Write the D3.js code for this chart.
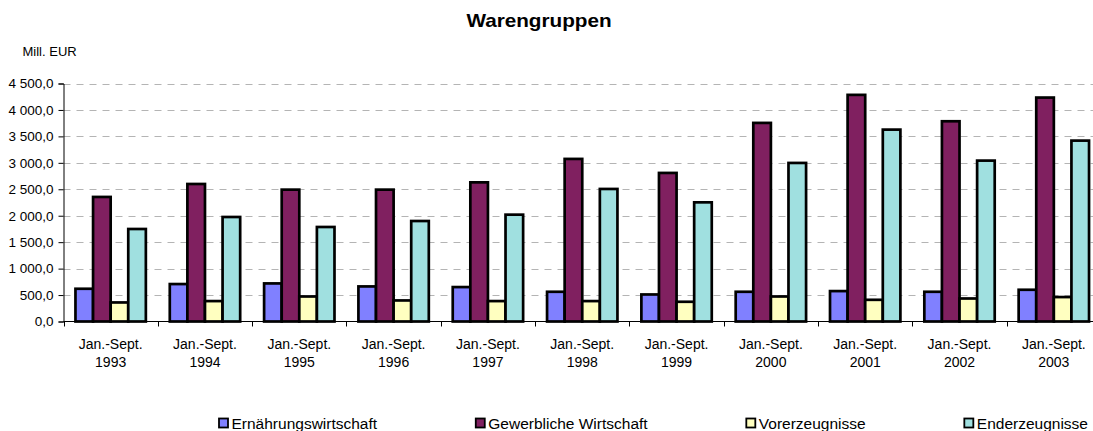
<!DOCTYPE html>
<html>
<head>
<meta charset="utf-8">
<script src="https://cdn.jsdelivr.net/npm/d3@7"></script>
<style>
  html, body { margin: 0; padding: 0; background: #fff; }
  svg { display: block; }
</style>
</head>
<body>
<div id="chart"></div>
<script>
// Values (Mill. EUR)
const years = ["1993", "1994", "1995", "1996", "1997", "1998", "1999", "2000", "2001", "2002", "2003"]
const seriesNames = ["Ernährungswirtschaft", "Gewerbliche Wirtschaft", "Vorerzeugnisse", "Enderzeugnisse"]
const ernaehrung = [619, 708, 720, 663, 651, 562, 511, 562, 575, 562, 600]
const gewerblich = [2355, 2600, 2493, 2493, 2631, 3074, 2809, 3755, 4285, 3786, 4234]
const vorerzeugnisse = [360, 386, 473, 398, 386, 386, 373, 473, 410, 435, 462]
const enderzeugnisse = [1749, 1976, 1787, 1900, 2020, 2506, 2253, 2998, 3628, 3042, 3420]
const colors = ["#8080ff", "#802060", "#ffffc0", "#a0e0e0"]
const yTicks = [0, 500, 1000, 1500, 2000, 2500, 3000, 3500, 4000, 4500]

const width = 1093, height = 431
const margin = {top: 83.5, left: 63.5, bottom: 321.5}
const font = "'Liberation Sans', Arial, sans-serif"

const seriesValues = [ernaehrung, gewerblich, vorerzeugnisse, enderzeugnisse]
const data = years.map((y, i) => ({
    year: y,
    values: seriesNames.map((s, j) => ({key: s, value: seriesValues[j][i], idx: j}))
}))

const de = d3.formatLocale({decimal: ",", thousands: " ", grouping: [3], currency: ["", " €"]})
const fmt = de.format(",.1f")

const svg = d3.select("#chart").append("svg")
    .attr("width", width)
    .attr("height", height)
    .attr("font-family", font)

// band for each year; the plot runs a bit past the right edge (cropped like the original)
const x0 = d3.scaleBand().domain(years).range([margin.left, 1101]).padding(0)
const x1 = d3.scaleBand().domain(seriesNames).range([0, x0.bandwidth()])
    .paddingInner(0).paddingOuter(0.68)
const y = d3.scaleLinear().domain([0, 4500]).range([margin.bottom, margin.top])

// Gridlines
svg.append("g")
    .selectAll("line")
    .data(yTicks.filter(d => d > 0))
    .join("line")
    .attr("x1", margin.left)
    .attr("x2", width)
    .attr("y1", d => Math.round(y(d)) + 0.5)
    .attr("y2", d => Math.round(y(d)) + 0.5)
    .attr("stroke", "#b4b4b4")
    .attr("stroke-width", 1)
    .attr("stroke-dasharray", "7,6")

// Bars
svg.append("g")
    .selectAll("g")
    .data(data)
    .join("g")
    .attr("transform", d => `translate(${x0(d.year)},0)`)
    .selectAll("rect")
    .data(d => d.values)
    .join("rect")
    .attr("x", d => x1(d.key))
    .attr("y", d => y(d.value))
    .attr("width", x1.bandwidth())
    .attr("height", d => y(0) - y(d.value))
    .attr("fill", d => colors[d.idx])
    .attr("stroke", "#000")
    .attr("stroke-width", 2.7)

// Y axis
const yAxis = svg.append("g")
    .attr("transform", `translate(${margin.left},0)`)
    .call(d3.axisLeft(y).tickValues(yTicks).tickFormat(fmt).tickSize(5).tickPadding(5))
yAxis.select(".domain").attr("stroke", "#000")
yAxis.selectAll(".tick line").attr("stroke", "#000")
yAxis.selectAll("text")
    .attr("font-family", font)
    .attr("font-size", "13.5px")
    .attr("fill", "#000")

// X axis: line plus ticks at band boundaries
svg.append("line")
    .attr("x1", margin.left)
    .attr("x2", width)
    .attr("y1", y(0))
    .attr("y2", y(0))
    .attr("stroke", "#000")
svg.append("g")
    .selectAll("line")
    .data(years)
    .join("line")
    .attr("x1", d => Math.round(x0(d)) + 0.5)
    .attr("x2", d => Math.round(x0(d)) + 0.5)
    .attr("y1", y(0))
    .attr("y2", y(0) + 5)
    .attr("stroke", "#000")

const xLabels = svg.append("g")
    .selectAll("text")
    .data(years)
    .join("text")
    .attr("x", d => x0(d) + x0.bandwidth() / 2)
    .attr("text-anchor", "middle")
    .attr("font-size", "14px")
    .attr("fill", "#000")
xLabels.append("tspan")
    .attr("x", d => x0(d) + x0.bandwidth() / 2)
    .attr("y", 348.5)
    .text("Jan.-Sept.")
xLabels.append("tspan")
    .attr("x", d => x0(d) + x0.bandwidth() / 2)
    .attr("y", 367)
    .text(d => d)

// Title
svg.append("g")
    .attr("transform", "translate(539,26.5) scale(1.15,1)")
    .append("text")
    .attr("text-anchor", "middle")
    .attr("font-size", "18px")
    .attr("font-weight", "bold")
    .text("Warengruppen")

// Unit label
svg.append("text")
    .attr("x", 22.5)
    .attr("y", 56)
    .attr("font-size", "13px")
    .text("Mill. EUR")

// Legend, spread so the items fill the row like the original
const legend = svg.append("g")
const items = legend.selectAll("g")
    .data(seriesNames)
    .join("g")
items.append("rect")
    .attr("x", 0)
    .attr("y", 418.5)
    .attr("width", 9)
    .attr("height", 9)
    .attr("fill", (d, i) => colors[i])
    .attr("stroke", "#000")
    .attr("stroke-width", 1.8)
items.append("text")
    .attr("x", 12.5)
    .attr("y", 428.5)
    .attr("font-size", "15.5px")
    .attr("fill", "#000")
    .text(d => d)

const itemWidths = []
items.each(function () {
    itemWidths.push(12.5 + d3.select(this).select("text").node().getComputedTextLength())
})
const legendStart = 219, legendEnd = 1088
const gap = (legendEnd - legendStart - d3.sum(itemWidths)) / (seriesNames.length - 1)
let cursor = legendStart
items.attr("transform", (d, i) => {
    const t = `translate(${cursor},0)`
    cursor += itemWidths[i] + gap
    return t
})
</script>
</body>
</html>
